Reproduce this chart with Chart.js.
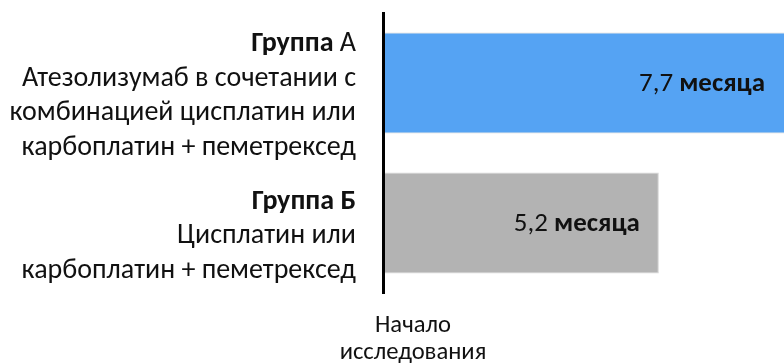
<!DOCTYPE html>
<html>
<head>
<meta charset="utf-8">
<script src="https://cdn.jsdelivr.net/npm/chart.js@4"></script>
<style>
html,body{margin:0;padding:0;background:#fff;}
#wrap{width:784px;height:363px;position:relative;}
</style>
</head>
<body>
<div id="wrap"><canvas id="c" width="784" height="363"></canvas></div>
<script>
const categories = ['Группа А', 'Группа Б'];
const months = [7.7, 5.2];
const valueLabels = ['7,7', '5,2'];
const unitLabel = 'месяца';
const groupTitleBold = ['Группа', 'Группа Б'];
const groupTitleRegular = [' А', ''];
const groupDescriptions = [
  ['Атезолизумаб в сочетании с', 'комбинацией цисплатин или', 'карбоплатин + пеметрексед'],
  ['Цисплатин или', 'карбоплатин + пеметрексед']
];
const axisLabel = ['Начало', 'исследования'];
const barColors = ['#55A3F3', '#B3B3B3'];

const FONT = "Carlito, 'Open Sans', 'Noto Sans', sans-serif";
const TEXT = '#111';

function fitSize(ctx, weightText, text, target) {
  ctx.font = weightText + ' 24px ' + FONT;
  const w = ctx.measureText(text).width;
  return 24 * target / w;
}

const labelsPlugin = {
  id: 'labelsPlugin',
  afterDraw(chart) {
    const ctx = chart.ctx;
    const y = chart.scales.y;
    const x = chart.scales.x;
    const area = chart.chartArea;
    ctx.save();
    ctx.fillStyle = TEXT;

    // left group labels
    const size = fitSize(ctx, 'normal', groupDescriptions[0][0], 334);
    const lh = 34.5;
    const rightX = 356;
    categories.forEach((cat, i) => {
      const c = y.getPixelForValue(i);
      const lines = 1 + groupDescriptions[i].length;
      const start = c + 20 - (lines - 1) / 2 * lh;
      ctx.textBaseline = 'alphabetic';
      ctx.textAlign = 'right';
      // title line: bold + regular
      ctx.font = 'normal ' + size + 'px ' + FONT;
      const regW = ctx.measureText(groupTitleRegular[i]).width;
      ctx.fillText(groupTitleRegular[i], rightX, start);
      ctx.font = 'bold ' + size + 'px ' + FONT;
      ctx.fillText(groupTitleBold[i], rightX - regW, start);
      ctx.font = 'normal ' + size + 'px ' + FONT;
      groupDescriptions[i].forEach((ln, k) => {
        ctx.fillText(ln, rightX, start + (k + 1) * lh);
      });
    });

    // value labels inside bars
    ctx.font = 'normal 24px ' + FONT;
    const w1 = ctx.measureText(valueLabels[0] + ' ').width;
    ctx.font = 'bold 24px ' + FONT;
    const w2 = ctx.measureText(unitLabel).width;
    const vsize = 24 * 126 / (w1 + w2);
    months.forEach((m, i) => {
      const c = y.getPixelForValue(i);
      const end = Math.min(x.getPixelForValue(m), area.right) - 19;
      ctx.textBaseline = 'middle';
      ctx.textAlign = 'right';
      ctx.font = 'bold ' + vsize + 'px ' + FONT;
      const uw = ctx.measureText(unitLabel).width;
      ctx.fillText(unitLabel, end, c + 1);
      ctx.font = 'normal ' + vsize + 'px ' + FONT;
      ctx.fillText(valueLabels[i] + ' ', end - uw, c + 1);
    });

    // axis label below
    const bsize = fitSize(ctx, 'normal', axisLabel[0], 76);
    ctx.font = 'normal ' + bsize + 'px ' + FONT;
    ctx.textAlign = 'center';
    ctx.textBaseline = 'alphabetic';
    ctx.fillText(axisLabel[0], 413, 332);
    ctx.fillText(axisLabel[1], 413, 359);
    ctx.restore();
  }
};

new Chart(document.getElementById('c'), {
  type: 'bar',
  data: {
    labels: categories,
    datasets: [{
      data: months,
      backgroundColor: barColors,
      borderColor: '#d6d6d6',
      borderWidth: 1,
      borderSkipped: 'start',
      barPercentage: 0.9,
      categoryPercentage: 0.8
    }]
  },
  options: {
    indexAxis: 'y',
    responsive: false,
    animation: false,
    devicePixelRatio: 1,
    layout: { padding: { top: 13, bottom: 70, left: 0, right: 0 } },
    plugins: { legend: { display: false }, tooltip: { enabled: false } },
    scales: {
      x: { display: false, min: 0, max: 7.56 },
      y: {
        display: true,
        ticks: { display: false },
        grid: { display: false },
        border: { display: true, color: '#000', width: 3, z: 1 },
        afterFit(s) { s.width = 383; }
      }
    }
  },
  plugins: [labelsPlugin]
});
</script>
</body>
</html>
